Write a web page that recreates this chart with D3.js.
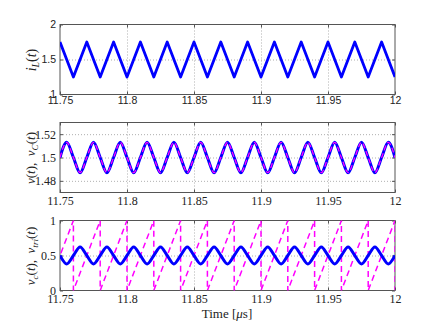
<!DOCTYPE html>
<html>
<head>
<meta charset="utf-8">
<title>Buck converter waveforms</title>
<script src="https://cdn.jsdelivr.net/npm/d3@7"></script>
<style>
  body { margin: 0; background: #fff; }
  .grid line { stroke: #9a9a9a; stroke-width: 0.8; stroke-dasharray: 1,2; }
  .grid path { display: none; }
  .box { fill: none; stroke: #555; stroke-width: 1; }
  .ticks line { stroke: #555; }
  .ticks path { display: none; }
  .lab { fill: #222; }
</style>
</head>
<body>
<div id="chart"></div>
<script>
// ---- data ----
var xTicks = [11.75, 11.8, 11.85, 11.9, 11.95, 12];

// inductor current: triangle vertices
var tIL = [11.75, 11.76, 11.77, 11.78, 11.79, 11.80, 11.81, 11.82, 11.83, 11.84, 11.85, 11.86, 11.87,
           11.88, 11.89, 11.90, 11.91, 11.92, 11.93, 11.94, 11.95, 11.96, 11.97, 11.98, 11.99, 12.00];
var iL  = [1.75, 1.25, 1.75, 1.25, 1.75, 1.25, 1.75, 1.25, 1.75, 1.25, 1.75, 1.25, 1.75,
           1.25, 1.75, 1.25, 1.75, 1.25, 1.75, 1.25, 1.75, 1.25, 1.75, 1.25, 1.75, 1.25];
var iLTicks = [1, 1.5, 2];

// sample times for the ripple waveforms (quarter periods)
var tS = [11.750, 11.755, 11.760, 11.765, 11.770, 11.775, 11.780, 11.785, 11.790, 11.795,
          11.800, 11.805, 11.810, 11.815, 11.820, 11.825, 11.830, 11.835, 11.840, 11.845,
          11.850, 11.855, 11.860, 11.865, 11.870, 11.875, 11.880, 11.885, 11.890, 11.895,
          11.900, 11.905, 11.910, 11.915, 11.920, 11.925, 11.930, 11.935, 11.940, 11.945,
          11.950, 11.955, 11.960, 11.965, 11.970, 11.975, 11.980, 11.985, 11.990, 11.995, 12.000];
// output / capacitor voltage
var vOut = [1.5, 1.513, 1.5, 1.487, 1.5, 1.513, 1.5, 1.487, 1.5, 1.513, 1.5, 1.487, 1.5,
            1.513, 1.5, 1.487, 1.5, 1.513, 1.5, 1.487, 1.5, 1.513, 1.5, 1.487, 1.5, 1.513,
            1.5, 1.487, 1.5, 1.513, 1.5, 1.487, 1.5, 1.513, 1.5, 1.487, 1.5, 1.513, 1.5,
            1.487, 1.5, 1.513, 1.5, 1.487, 1.5, 1.513, 1.5, 1.487, 1.5, 1.513, 1.5];
var vTicks = [1.48, 1.5, 1.52];

// control voltage
var vCtl = [0.5, 0.38, 0.5, 0.62, 0.5, 0.38, 0.5, 0.62, 0.5, 0.38, 0.5, 0.62, 0.5,
            0.38, 0.5, 0.62, 0.5, 0.38, 0.5, 0.62, 0.5, 0.38, 0.5, 0.62, 0.5, 0.38,
            0.5, 0.62, 0.5, 0.38, 0.5, 0.62, 0.5, 0.38, 0.5, 0.62, 0.5, 0.38, 0.5,
            0.62, 0.5, 0.38, 0.5, 0.62, 0.5, 0.38, 0.5, 0.62, 0.5, 0.38, 0.5];

// sawtooth carrier vertices
var tTri = [11.74, 11.76, 11.76, 11.78, 11.78, 11.80, 11.80, 11.82, 11.82, 11.84, 11.84, 11.86, 11.86,
            11.88, 11.88, 11.90, 11.90, 11.92, 11.92, 11.94, 11.94, 11.96, 11.96, 11.98, 11.98, 12.00, 12.00];
var vTri = [0, 1, 0, 1, 0, 1, 0, 1, 0, 1, 0, 1, 0,
            1, 0, 1, 0, 1, 0, 1, 0, 1, 0, 1, 0, 1, 0];
var triTicks = [0, 0.5, 1];

// ---- layout ----
var width = 436, height = 328;
var left = 60, plotW = 335, plotH = 70;
var tops = [24.5, 122.5, 220.5];

var svg = d3.select("#chart").append("svg")
    .attr("width", width)
    .attr("height", height);

var x = d3.scaleLinear().domain([11.75, 12]).range([left, left + plotW]);

function panel(i, yDomain, yTicks, font, fontSize, xPad, yFmt) {
  var top = tops[i];
  var y = d3.scaleLinear().domain(yDomain).range([top + plotH, top]);
  var g = svg.append("g");

  g.append("clipPath").attr("id", "clip" + i)
    .append("rect").attr("x", left).attr("y", top).attr("width", plotW).attr("height", plotH);

  // grid
  g.append("g").attr("class", "grid")
      .attr("transform", "translate(0," + (top + plotH) + ")")
      .call(d3.axisBottom(x).tickValues(xTicks.slice(1, -1)).tickSize(-plotH).tickFormat(""));
  g.append("g").attr("class", "grid")
      .attr("transform", "translate(" + left + ",0)")
      .call(d3.axisLeft(y).tickValues(yTicks.filter(function(v) { return v > yDomain[0] && v < yDomain[1]; }))
        .tickSize(-plotW).tickFormat(""));

  // inward ticks on all four sides
  var bottom = g.append("g").attr("class", "ticks")
      .attr("transform", "translate(0," + (top + plotH) + ")")
      .call(d3.axisBottom(x).tickValues(xTicks).tickSizeInner(-3).tickSizeOuter(0).tickPadding(xPad)
        .tickFormat(function(d) { return d3.format("")(+d.toFixed(2)); }));
  g.append("g").attr("class", "ticks")
      .attr("transform", "translate(0," + top + ")")
      .call(d3.axisTop(x).tickValues(xTicks).tickSizeInner(-3).tickSizeOuter(0).tickFormat(""));
  var leftAx = g.append("g").attr("class", "ticks")
      .attr("transform", "translate(" + left + ",0)")
      .call(d3.axisLeft(y).tickValues(yTicks).tickSizeInner(-3).tickSizeOuter(0).tickPadding(4).tickFormat(yFmt));
  g.append("g").attr("class", "ticks")
      .attr("transform", "translate(" + (left + plotW) + ",0)")
      .call(d3.axisRight(y).tickValues(yTicks).tickSizeInner(-3).tickSizeOuter(0).tickFormat(""));

  [bottom, leftAx].forEach(function(a) {
    a.attr("font-family", font).attr("font-size", fontSize);
    a.selectAll("text").attr("fill", "#222");
  });

  g.append("rect").attr("class", "box")
    .attr("x", left).attr("y", top).attr("width", plotW).attr("height", plotH);

  var plot = g.append("g").attr("clip-path", "url(#clip" + i + ")");
  return { y: y, plot: plot };
}

function drawLine(p, ts, vs, color, w, dash, curve) {
  var line = d3.line()
    .x(function(d) { return x(d[0]); })
    .y(function(d) { return p.y(d[1]); })
    .curve(curve || d3.curveLinear);
  p.plot.append("path")
    .datum(d3.zip(ts, vs))
    .attr("d", line)
    .attr("fill", "none")
    .attr("stroke", color)
    .attr("stroke-width", w)
    .attr("stroke-linejoin", "round")
    .attr("stroke-dasharray", dash);
}

var sans = "'Liberation Sans', Arial, sans-serif";
var serif = "'Liberation Serif', 'Times New Roman', serif";

var p1 = panel(0, [1, 2], iLTicks, sans, 10.5, 2.5, function(d) { return d3.format("")(d); });
drawLine(p1, tIL, iL, "#0000ff", 2.8, null);

var p2 = panel(1, [1.47, 1.53], vTicks, serif, 12, 4, function(d) { return d.toFixed(2).replace(/0$/, ""); });
drawLine(p2, tS, vOut, "#0000ff", 3, null, d3.curveMonotoneX);
drawLine(p2, tS, vOut, "#ff00ff", 1.3, "5,3", d3.curveMonotoneX);

var p3 = panel(2, [0, 1], triTicks, serif, 12, 4, function(d) { return d3.format("")(d); });
drawLine(p3, tTri, vTri, "#ff00ff", 1.5, "6,4");
drawLine(p3, tS, vCtl, "#0000ff", 3, null, d3.curveMonotoneX);

// ---- axis labels ----
// parts: [text, italic, subscript]
function yLabel(xPos, yc, size, parts) {
  var t = svg.append("text")
    .attr("class", "lab")
    .attr("transform", "translate(" + xPos + "," + yc + ") rotate(-90)")
    .attr("text-anchor", "middle")
    .style("font-family", serif)
    .style("font-size", size + "px");
  var sub = false;
  parts.forEach(function(p) {
    var dy = 0;
    if (p[2] && !sub) dy = 3;
    if (!p[2] && sub) dy = -3;
    sub = !!p[2];
    t.append("tspan")
      .text(p[0])
      .style("font-style", p[1] ? "italic" : "normal")
      .style("font-size", p[2] ? (size * 0.7) + "px" : null)
      .attr("dy", dy);
  });
}

yLabel(36, 60, 14, [["i", 1], ["L", 1, 1], ["(", 0], ["t", 1], [")", 0]]);
yLabel(35, 158, 13, [["v", 1], ["(", 0], ["t", 1], ["),", 0], ["\u2002v", 1], ["C", 1, 1],
  ["(", 0], ["t", 1], [")", 0]]);
yLabel(35, 256, 13, [["v", 1], ["c", 1, 1], ["(", 0], ["t", 1], ["),", 0], ["\u2002v", 1], ["tri", 1, 1],
  ["(", 0], ["t", 1], [")", 0]]);

var xl = svg.append("text")
  .attr("class", "lab")
  .attr("x", 227)
  .attr("y", 318)
  .attr("text-anchor", "middle")
  .style("font-family", serif)
  .style("font-size", "13px");
xl.append("tspan").text("Time [");
xl.append("tspan").text("\u03bc").style("font-style", "italic");
xl.append("tspan").text("s]");
</script>
</body>
</html>
